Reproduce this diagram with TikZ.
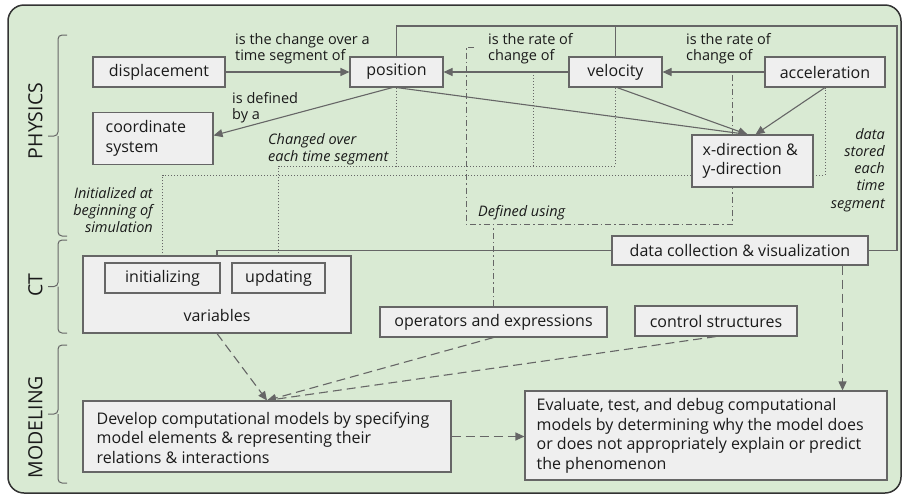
\documentclass[tikz,border=0pt]{standalone}
\usepackage{fontspec}
\setmainfont{Open Sans}
\usetikzlibrary{arrows.meta,calc}
\definecolor{bggreen}{HTML}{D9EAD3}
\definecolor{boxfill}{HTML}{EFEFEF}
\definecolor{linegray}{HTML}{666666}
\definecolor{txtc}{HTML}{1A1A1A}
\newcommand\bxfont{\fontsize{16}{19.5}\selectfont}
\newcommand\lbfont{\fontsize{14.5}{16.5}\selectfont}
\newcommand\itfont{\fontsize{14.5}{17.2}\selectfont\itshape}
\pgfdeclarelayer{back}
\pgfdeclarelayer{lines}
\pgfsetlayers{back,lines,main}
\tikzset{
 box/.style={draw=linegray, fill=boxfill, line width=1.1pt, inner sep=0pt, text=txtc, font=\bxfont},
 btxt/.style={inner sep=0pt, align=left, text=txtc, font=\bxfont},
 lbl/.style={inner sep=0pt, align=left, text=txtc, font=\lbfont},
 itl/.style={inner sep=0pt, text=txtc, font=\itfont},
 conn/.style={draw=linegray, line width=1.1pt},
 arr/.style={conn, -{Triangle[length=9pt,width=8pt]}},
 dasharr/.style={draw=linegray, line width=1.1pt, dash pattern=on 9pt off 5pt, -{Triangle[length=9pt,width=8pt]}},
 dotl/.style={draw=linegray, line width=1pt, dash pattern=on 1pt off 2pt},
 ddot/.style={draw=linegray, line width=1pt, dash pattern=on 6pt off 3pt on 1.5pt off 3pt},
 brc/.style={draw=linegray, line width=1pt, rounded corners=4pt},
 side/.style={rotate=90, text=txtc, font=\fontsize{19.5}{22}\selectfont},
}
\begin{document}
\begin{tikzpicture}[x=1pt,y=-1pt]
\useasboundingbox (0,0) rectangle (903,496);
\begin{pgfonlayer}{back}
\fill[white] (0,0) rectangle (903,496);
\draw[fill=bggreen, draw=black!80, line width=1.5pt, rounded corners=16pt] (8,5) rectangle (901,493);
\end{pgfonlayer}

% boxes
\node[box, minimum width=132pt, minimum height=30pt] (disp) at (159,72) {displacement};
\node[box, minimum width=93pt, minimum height=30pt] (pos) at (396.5,72) {position};
\node[box, minimum width=120pt, minimum height=52pt] (coord) at (153,138.5) {};
\node[btxt, anchor=west] (coordtxt) at ($(coord.west)+(13,0)$) {coordinate\\system};
\node[box, minimum width=93pt, minimum height=30pt] (vel) at (615.5,72) {velocity};
\node[box, minimum width=120pt, minimum height=30pt] (acc) at (825,72) {acceleration};
\node[box, minimum width=121pt, minimum height=52pt] (xdir) at (752.5,161) {};
\node[btxt, anchor=west] (xdirtxt) at ($(xdir.west)+(11,0)$) {x-direction \&\\y-direction};
\node[box, minimum width=256pt, minimum height=29pt] (data) at (740,250.5) {data collection \& visualization};
\node[box, minimum width=268pt, minimum height=77pt] (vars) at (217,294.5) {};
\node[btxt] (varstxt) at (217,315) {variables};
\node[box, minimum width=115pt, minimum height=30pt] (init) at (162.5,278) {initializing};
\node[box, minimum width=93pt, minimum height=30pt] (upd) at (278.5,278) {updating};
\node[box, minimum width=227pt, minimum height=30pt] (ops) at (493.5,322) {operators and expressions};
\node[box, minimum width=162pt, minimum height=30pt] (ctrl) at (716,321) {control structures};
\node[box, minimum width=368pt, minimum height=71pt] (dev) at (267,436.5) {};
\node[btxt, anchor=west] (devtxt) at ($(dev.west)+(14,1)$) {Develop computational models by specifying\\model elements \& representing their\\relations \& interactions};
\node[box, minimum width=362pt, minimum height=89pt] (eval) at (706,435.5) {};
\node[btxt, anchor=west] (evaltxt) at ($(eval.west)+(12,0.5)$) {Evaluate, test, and debug computational\\models by determining why the model does\\or does not appropriately explain or predict\\the phenomenon};

% labels
\node[lbl, anchor=north west] (l1) at (235,33) {is the change over a\\time segment of};
\node[lbl, anchor=north west] (l2) at (232,92) {is defined\\by a};
\node[lbl, anchor=north west] (l3) at (488,33) {is the rate of\\change of};
\node[lbl, anchor=north west] (l4) at (686,33) {is the rate of\\change of};
\node[itl, align=left, anchor=north west] (l5) at (268,133) {Changed over\\each time segment};
\node[itl, align=right, anchor=north east] (l6) at (153,187) {Initialized at\\beginning of\\simulation};
\node[itl, anchor=north west] (l7) at (478,205) {Defined using};
\node[itl, align=right, anchor=north east] (l8) at (885,128) {data\\stored\\each\\time\\segment};

% side labels and braces
\node[side] (phys) at (35.5,121) {PHYSICS};
\node[side] (ct) at (35.5,285) {CT};
\node[side] (mod) at (35.5,427) {MODELING};
\draw[brc] (67,35) -| (58,136) -- (48,136);
\draw[brc] (67,236) -| (58,136);
\draw[brc] (67,240) -| (58,286.5) -- (48,286.5);
\draw[brc] (67,333) -| (58,286.5);
\draw[brc] (67,345) -| (58,414) -- (48,414);
\draw[brc] (67,483) -| (58,414);

\begin{pgfonlayer}{lines}
\coordinate (topR) at (897,26);
\coordinate (lineA) at (0,166);
\coordinate (lineB) at (0,175);
\coordinate (pvmid) at (533,72);
\coordinate (vamid) at (732,72);
\coordinate (ddcorner) at (466,224);
\coordinate (ddtop) at (474,47);
% solid connectors
\draw[conn] (pos.north) |- (topR) |- (data.east);
\draw[conn] (vel.north) -- (vel.north |- topR);
\draw[conn] (data.west) -| (vars.north);
% arrows
\draw[arr] (disp.east) -- (pos.west);
\draw[arr] (vel.west) -- (pos.east);
\draw[arr] (acc.west) -- (vel.east);
\draw[arr] ($(pos.south)+(-4,0)$) -- ($(coord.east)+(0,-3)$);
\draw[arr] (pos.south) -- ($(xdir.north)+(-5,0)$);
\draw[arr] ($(vel.south)+(1.5,0)$) -- ($(xdir.north)+(-5,0)$);
\draw[arr] (acc.south) -- ($(xdir.north)+(3,0)$);
% dotted
\draw[dotl] (upd.north) |- (vel.south |- lineA) -- (vel.south);
\draw[dotl] (pos.south) -- (pos.south |- lineA);
\draw[dotl] (pvmid) -- (pvmid |- lineA);
\draw[dotl] (init.north) |- (acc.south |- lineB) -- (acc.south);
% dash-dot
\draw[ddot] (ops.north) -- (ops.north |- ddcorner);
\draw[ddot] (ddtop) -| (ddcorner) -- (vamid |- ddcorner) -- (vamid);
% dashed arrows
\draw[dasharr] (vars.south) -- (dev.north);
\draw[dasharr] (ops.south) -- (dev.north);
\draw[dasharr] (ctrl.south) -- (dev.north);
\draw[dasharr] ($(data.south east)+(-26,0)$) coordinate (dcs) -- (dcs |- eval.north);
\draw[dasharr] (dev.east) -- (dev.east -| eval.west);
\end{pgfonlayer}
\end{tikzpicture}
\end{document}
